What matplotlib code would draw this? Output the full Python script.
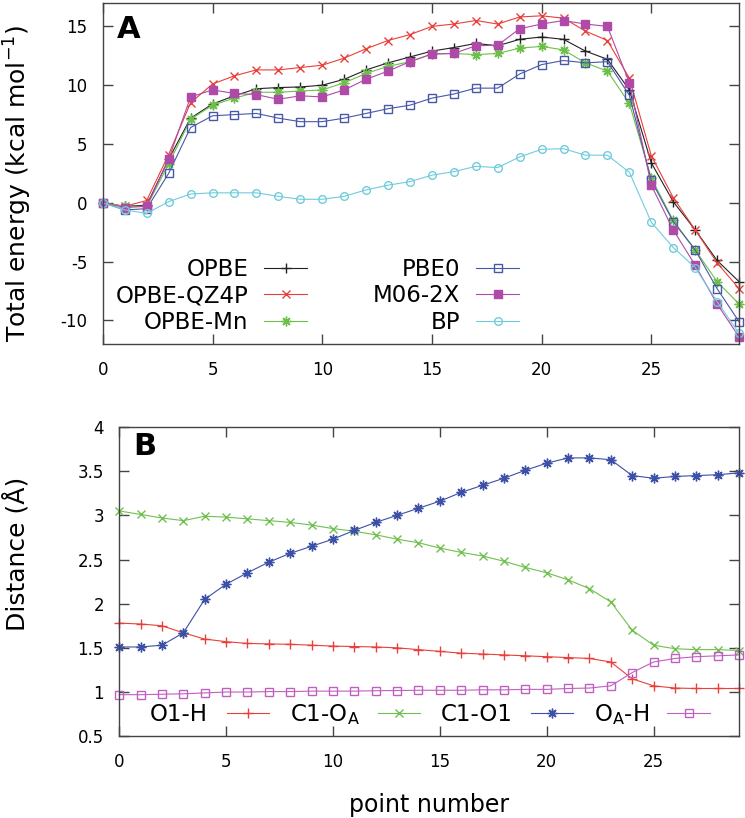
import numpy as np
import matplotlib.pyplot as plt
from matplotlib.ticker import FuncFormatter

plt.rcParams['font.family'] = 'DejaVu Sans'
plt.rcParams['axes.unicode_minus'] = False
plt.rcParams['mathtext.default'] = 'regular'

points = np.arange(30)

# panel A, total energy (kcal/mol)
opbe = [0, -0.3, -0.2, 3.7, 7.2, 8.4, 9.1, 9.7, 9.8, 9.85, 10.0, 10.5, 11.3, 11.9, 12.4,
        12.9, 13.2, 13.55, 13.35, 13.9, 14.1, 13.9, 12.9, 12.2, 9.6, 3.4, 0.1, -2.3, -4.9, -6.7]
opbe_qz4p = [0, -0.3, 0.2, 4.1, 8.5, 10.1, 10.8, 11.3, 11.3, 11.5, 11.7, 12.3, 13.1, 13.8, 14.3,
             15.0, 15.2, 15.5, 15.2, 15.8, 15.9, 15.7, 14.6, 13.8, 10.6, 4.0, 0.45, -2.3, -5.1, -7.3]
opbe_mn = [0, -0.3, -0.3, 3.3, 7.1, 8.3, 8.9, 9.4, 9.4, 9.5, 9.6, 10.2, 11.0, 11.6, 12.0,
           12.65, 12.7, 12.6, 12.7, 13.15, 13.3, 13.0, 11.9, 11.2, 8.45, 2.1, -1.5, -4.0, -6.7, -8.6]
pbe0 = [0, -0.6, -0.5, 2.5, 6.4, 7.4, 7.5, 7.6, 7.2, 6.9, 6.9, 7.2, 7.6, 8.0, 8.3,
        8.9, 9.25, 9.75, 9.75, 10.95, 11.75, 12.1, 11.9, 12.0, 9.15, 1.9, -1.6, -4.0, -7.3, -10.1]
m06_2x = [0, -0.4, -0.3, 3.7, 9.0, 9.6, 9.3, 9.2, 8.8, 9.1, 9.0, 9.6, 10.5, 11.2, 12.0,
          12.65, 12.7, 13.35, 13.4, 14.8, 15.2, 15.5, 15.2, 15.0, 10.2, 1.5, -2.3, -5.3, -8.6, -11.4]
bp = [0, -0.6, -0.9, 0.1, 0.75, 0.85, 0.85, 0.85, 0.55, 0.3, 0.3, 0.55, 1.1, 1.5, 1.8,
      2.35, 2.65, 3.1, 3.0, 3.9, 4.55, 4.6, 4.05, 4.05, 2.6, -1.65, -3.8, -5.5, -8.4, -11.1]

# panel B, distances (Angstrom)
o1_h = [1.78, 1.77, 1.75, 1.67, 1.60, 1.57, 1.55, 1.545, 1.54, 1.53, 1.52, 1.515, 1.51, 1.50, 1.48,
        1.46, 1.44, 1.43, 1.42, 1.41, 1.40, 1.39, 1.38, 1.34, 1.15, 1.07, 1.045, 1.04, 1.04, 1.04]
c1_oa = [3.05, 3.01, 2.97, 2.94, 2.99, 2.98, 2.96, 2.94, 2.92, 2.89, 2.85, 2.82, 2.78, 2.73, 2.69,
         2.63, 2.58, 2.54, 2.48, 2.41, 2.35, 2.27, 2.17, 2.02, 1.70, 1.53, 1.49, 1.48, 1.48, 1.47]
c1_o1 = [1.51, 1.51, 1.53, 1.67, 2.05, 2.22, 2.35, 2.47, 2.57, 2.65, 2.73, 2.83, 2.92, 3.0, 3.08,
         3.16, 3.26, 3.34, 3.42, 3.51, 3.59, 3.65, 3.65, 3.63, 3.45, 3.42, 3.44, 3.45, 3.46, 3.48]
oa_h = [0.97, 0.97, 0.975, 0.98, 0.99, 1.0, 1.0, 1.005, 1.005, 1.01, 1.01, 1.01, 1.015, 1.017, 1.02,
        1.02, 1.02, 1.025, 1.025, 1.03, 1.03, 1.04, 1.045, 1.07, 1.22, 1.34, 1.38, 1.40, 1.41, 1.42]

asterisk = (8, 2, 0)

fig = plt.figure(figsize=(7.45, 8.18), dpi=100)
axA = fig.add_axes([0.138, 0.5795, 0.854, 0.417])
axB = fig.add_axes([0.160, 0.100, 0.832, 0.378])


def style_axes(ax):
    for s in ax.spines.values():
        s.set_color('#444444')
        s.set_linewidth(1.0)
    ax.tick_params(direction='in', length=7, width=1, color='#444444',
                   top=True, right=True, labelsize=12)
    ax.tick_params(axis='x', pad=12)
    ax.tick_params(axis='y', pad=11)
    ax.yaxis.set_major_formatter(FuncFormatter(lambda v, p: '%g' % v))


kw = dict(lw=0.8, clip_on=False)
axA.plot(points, opbe, color='#222222', marker='+', ms=7, label='OPBE', **kw)
axA.plot(points, opbe_qz4p, color='#e8403a', marker='x', ms=6, label='OPBE-QZ4P', **kw)
axA.plot(points, opbe_mn, color='#6cc04a', marker=asterisk, ms=7, label='OPBE-Mn', **kw)
axA.plot(points, pbe0, color='#4858a8', marker='s', ms=5.5, mfc='none', label='PBE0', **kw)
axA.plot(points, m06_2x, color='#b04aa8', marker='s', ms=5.5, label='M06-2X', **kw)
axA.plot(points, bp, color='#70ccdc', marker='o', ms=5.5, mfc='none', label='BP', **kw)

axA.set_xlim(0, 29)
axA.set_ylim(-12, 17)
axA.set_xticks(range(0, 30, 5))
axA.set_yticks(range(-10, 16, 5))
style_axes(axA)
axA.set_ylabel('Total energy (kcal mol$^{-1}$)', fontsize=18)
axA.yaxis.set_label_coords(-0.108, 0.47)
axA.text(0.022, 0.965, 'A', transform=axA.transAxes, fontsize=22, fontweight='bold',
         va='top', ha='left')
axA.legend(ncol=2, loc='lower left', bbox_to_anchor=(0.02, 0.03), frameon=False,
           markerfirst=False, alignment='right', fontsize=16.5, handlelength=1.85,
           handletextpad=0.7, columnspacing=2.9, labelspacing=0.15,
           borderpad=0, borderaxespad=0)

axB.plot(points, o1_h, color='#e8403a', marker='+', ms=7, label='O1-H', **kw)
axB.plot(points, c1_oa, color='#70c050', marker='x', ms=6, label='C1-O$_\\mathrm{A}$', **kw)
axB.plot(points, c1_o1, color='#3c50a8', marker=asterisk, ms=7, label='C1-O1', **kw)
axB.plot(points, oa_h, color='#c060c0', marker='s', ms=5.5, mfc='none', label='O$_\\mathrm{A}$-H', **kw)

axB.set_xlim(0, 29)
axB.set_ylim(0.5, 4)
axB.set_xticks(range(0, 30, 5))
axB.set_yticks(np.arange(0.5, 4.01, 0.5))
style_axes(axB)
axB.set_ylabel('Distance (Å)', fontsize=18)
axB.yaxis.set_label_coords(-0.145, 0.59)
axB.set_xlabel('point number', fontsize=17, labelpad=16)
axB.text(0.022, 0.985, 'B', transform=axB.transAxes, fontsize=22, fontweight='bold',
         va='top', ha='left')
axB.legend(ncol=4, loc='lower left', bbox_to_anchor=(0.05, 0.03), frameon=False,
           markerfirst=False, fontsize=16.5, handlelength=1.85, handletextpad=0.8,
           columnspacing=0.9, borderpad=0, borderaxespad=0)

fig.savefig('out.png', dpi=100)
